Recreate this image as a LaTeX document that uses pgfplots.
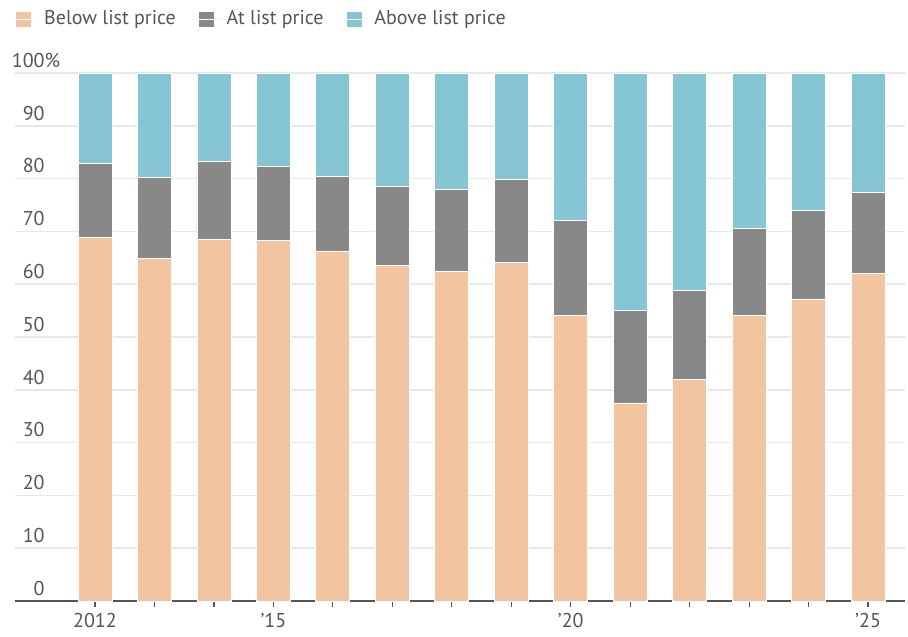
\documentclass[border=0pt]{standalone}
\usepackage{fontspec}
\setmainfont{PT Sans}
\usepackage{pgfplots}
\usepackage{pgfplotstable}
\pgfplotsset{compat=1.18}
\definecolor{below}{RGB}{242,196,160}
\definecolor{atc}{RGB}{136,136,136}
\definecolor{above}{RGB}{134,198,212}
\definecolor{txt}{RGB}{85,85,85}
\definecolor{gridc}{RGB}{232,232,232}
\pgfplotstableread{
year below at above
2012 68.8 14.0 17.2
2013 64.9 15.3 19.8
2014 68.4 14.9 16.7
2015 68.2 14.1 17.7
2016 66.3 14.1 19.6
2017 63.6 15.0 21.4
2018 62.4 15.5 22.1
2019 64.1 15.8 20.1
2020 54.0 18.0 28.0
2021 37.5 17.6 44.9
2022 41.9 17.0 41.1
2023 54.0 16.5 29.5
2024 57.2 16.7 26.1
2025 62.1 15.2 22.7
}\data
\begin{document}
\fontsize{10}{12}\selectfont
\begin{tikzpicture}
\path[use as bounding box] (-7.5pt,-17.5pt) rectangle (446.5pt,300.5pt);
\begin{axis}[
  at={(0,0)}, anchor=south west,
  scale only axis, width=445pt, height=264pt,
  xmin=2010.655, xmax=2025.62, ymin=0, ymax=100,
  ybar stacked, bar width=17pt,
  axis lines*=left,
  y axis line style={draw=none},
  x axis line style={draw=txt, line width=0.8pt},
  tick align=outside,
  xtick={2012,...,2025},
  xticklabels={2012,,,’15,,,,,’20,,,,,’25},
  xtick style={draw=txt, line width=0.6pt},
  major tick length=3pt,
  ytick={0,10,...,100},
  yticklabels={0,10,20,30,40,50,60,70,80,90,100\rlap{\%}},
  ytick style={draw=none},
  ymajorgrids, grid style={gridc, line width=0.8pt},
  yticklabel style={anchor=south east, inner sep=0pt, xshift=18pt, yshift=2.5pt, text=txt},
  xticklabel style={inner sep=0pt, yshift=-3pt, text=txt},
  /pgf/number format/assume math mode=true,
  legend style={at={(0,1)}, anchor=west, yshift=27pt, draw=none, fill=none, inner sep=0pt,
    text=txt, legend columns=-1,
    /tikz/every even column/.append style={column sep=9pt}},
  legend image code/.code={\fill[#1] (0pt,-4pt) rectangle (8pt,4pt); \path (0pt,0pt) -- (12pt,0pt);},
  every axis plot/.append style={draw=white, line width=0.4pt},
]
\addplot[fill=below] table[x=year, y=below] {\data};
\addplot[fill=atc] table[x=year, y=at] {\data};
\addplot[fill=above] table[x=year, y=above] {\data};
\legend{Below list price, At list price, Above list price}
\end{axis}
\end{tikzpicture}
\end{document}
